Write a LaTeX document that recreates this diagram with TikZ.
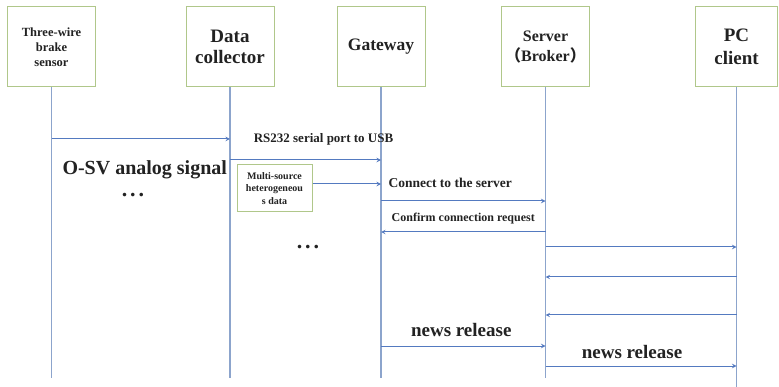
\documentclass[tikz,border=0pt]{standalone}
\usepackage{fontspec}
\setmainfont{Liberation Serif}
\newfontfamily\cjk{Noto Sans CJK SC}
\usepackage{tikz}
\usetikzlibrary{arrows, positioning}
\usepackage{xcolor}
\definecolor{boxgreen}{RGB}{176, 199, 138}
\definecolor{lifeblue}{RGB}{140, 164, 204}
\definecolor{msgblue}{RGB}{84, 122, 192}
\definecolor{inkgray}{RGB}{34, 34, 34}
\tikzstyle{lifebox} = [rectangle, minimum width=88pt, minimum height=80pt, text centered, align=center, draw=boxgreen, line width=1pt, text=inkgray]
\tikzstyle{databox} = [rectangle, minimum width=75pt, minimum height=47pt, text centered, align=center, draw=boxgreen, line width=1pt, text=inkgray, font=\bfseries\fontsize{10}{12.5}\selectfont]
\tikzstyle{lifeline} = [draw=lifeblue, line width=1.3pt]
\tikzstyle{msg} = [->, >=stealth, draw=msgblue, line width=1pt]
\tikzstyle{lbl} = [text=inkgray, inner sep=0pt, anchor=base]

\begin{document}
\begin{tikzpicture}[x=1pt, y=-1pt]
    \useasboundingbox (0,0) rectangle (779,387);

    % Participants
    \node (sensor) [lifebox, font=\bfseries\fontsize{12.5}{15}\selectfont] at (51.5,47) {Three-wire\\brake\\sensor};
    \node (collector) [lifebox, font=\bfseries\fontsize{19}{21}\selectfont, right=89.5pt of sensor] {Data\\collector};
    \node (gateway) [lifebox, font=\bfseries\fontsize{17.5}{21}\selectfont, right=62pt of collector] {Gateway};
    \node (server) [lifebox, font=\bfseries\fontsize{16}{20}\selectfont, right=75.5pt of gateway] {Server\\{\cjk （}Broker{\cjk ）}};
    \node (pc) [lifebox, minimum width=82pt, font=\bfseries\fontsize{19}{23}\selectfont, right=105pt of server] {PC\\client};

    % Rows of the messages
    \coordinate (r1) at (0,139);
    \coordinate (r2) at (0,160);
    \coordinate (r3) at (0,184);
    \coordinate (r4) at (0,201);
    \coordinate (r5) at (0,232);
    \coordinate (r6) at (0,247);
    \coordinate (r7) at (0,277);
    \coordinate (r8) at (0,315);
    \coordinate (r9) at (0,346);
    \coordinate (r10) at (0,366);
    \coordinate (foot) at (0,378);
    \coordinate (pcfoot) at (0,387);

    % Lifelines
    \draw [lifeline] (sensor.south) -- (sensor.south |- foot);
    \draw [lifeline] (collector.south) -- (collector.south |- foot);
    \draw [lifeline] (gateway.south) -- (gateway.south |- foot);
    \draw [lifeline] (server.south) -- (server.south |- foot);
    \draw [lifeline] (pc.south) -- (pc.south |- pcfoot);

    % Source data
    \node (multi) [databox] at (274.5,188.5) {Multi-source\\heterogeneou\\s data};
    \node (dotsa) [lbl, font=\bfseries\fontsize{22}{22}\selectfont] at (133,197) {.\hspace{3pt}.\hspace{3pt}.};
    \node (dotsb) [lbl, font=\bfseries\fontsize{22}{22}\selectfont] at (308,249) {.\hspace{3pt}.\hspace{3pt}.};

    % Messages
    \draw [msg] (sensor |- r1) -- node[lbl, font=\bfseries\fontsize{20}{20}\selectfont, xshift=4pt, yshift=-36pt] {O-SV analog signal} (collector |- r1);
    \draw [msg] (collector |- r2) -- node[lbl, font=\bfseries\fontsize{13}{13}\selectfont, xshift=18pt, yshift=17pt] {RS232 serial port to USB} (gateway |- r2);
    \draw [msg] (multi.east |- r3) -- (gateway |- r3);
    \draw [msg] (gateway |- r4) -- node[lbl, font=\bfseries\fontsize{13.5}{13.5}\selectfont, xshift=-13pt, yshift=13pt] {Connect to the server} (server |- r4);
    \draw [msg] (server |- r5) -- node[lbl, font=\bfseries\fontsize{12}{12}\selectfont, yshift=10pt] {Confirm connection request} (gateway |- r5);
    \draw [msg] (server |- r6) -- (pc |- r6);
    \draw [msg] (pc |- r7) -- (server |- r7);
    \draw [msg] (pc |- r8) -- (server |- r8);
    \draw [msg] (gateway |- r9) -- node[lbl, font=\bfseries\fontsize{19}{19}\selectfont, xshift=-2pt, yshift=9pt] {news release} (server |- r9);
    \draw [msg] (server |- r10) -- node[lbl, font=\bfseries\fontsize{19}{19}\selectfont, xshift=-9pt, yshift=8pt] {news release} (pc |- r10);

\end{tikzpicture}
\end{document}
